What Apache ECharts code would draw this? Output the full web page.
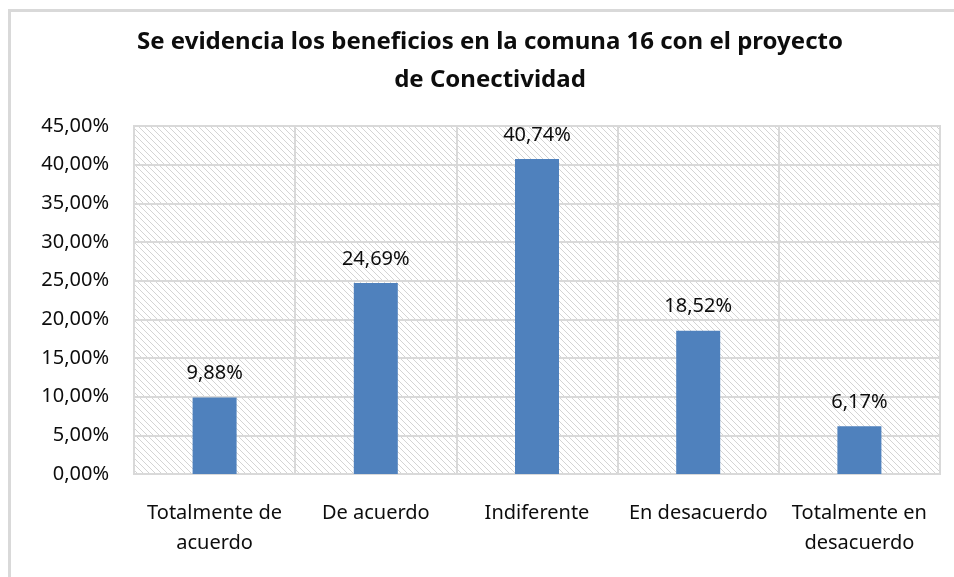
<!DOCTYPE html>
<html>
<head>
<meta charset="utf-8">
<script src="https://cdn.jsdelivr.net/npm/echarts@6/dist/echarts.min.js"></script>
<style>
  html, body { margin: 0; padding: 0; background: #fff; }
  #chart { width: 954px; height: 577px; }
</style>
</head>
<body>
<div id="chart"></div>
<script>
// datos del gráfico
const titleText = 'Se evidencia los beneficios en la comuna 16 con el proyecto\nde Conectividad'
const categories = [
  'Totalmente de\nacuerdo',
  'De acuerdo',
  'Indiferente',
  'En desacuerdo',
  'Totalmente en\ndesacuerdo'
]
const percentValues = [9.88, 24.69, 40.74, 18.52, 6.17]
const yTicks = { min: 0, max: 45, step: 5 }

// formato con coma decimal
function fmtPct(v) {
  return Number(v).toFixed(2).replace('.', ',') + '%'
}

// patrón rayado del fondo del área de trazado
function makeHatch() {
  const s = 6
  const c = document.createElement('canvas')
  c.width = s
  c.height = s
  const ctx = c.getContext('2d')
  ctx.fillStyle = '#ffffff'
  ctx.fillRect(0, 0, s, s)
  ctx.strokeStyle = '#d4d4d4'
  ctx.lineWidth = 1
  for (let i = -s; i <= s; i += s) {
    ctx.beginPath()
    ctx.moveTo(i, 0)
    ctx.lineTo(i + s, s)
    ctx.stroke()
  }
  return c
}

const chart = echarts.init(document.getElementById('chart'))
const font = 'Noto Sans'

const option = {
  animation: false,
  backgroundColor: '#ffffff',
  graphic: [
    {
      type: 'rect',
      shape: { x: 9.5, y: 10.5, width: 1000, height: 700 },
      style: { fill: 'none', stroke: '#d9d9d9', lineWidth: 3 },
      silent: true
    }
  ],
  title: {
    text: titleText,
    left: 490,
    top: 23,
    textAlign: 'center',
    padding: 0,
    textStyle: {
      fontFamily: font,
      fontWeight: 'bold',
      fontSize: 24,
      lineHeight: 38,
      color: '#0d0d0d'
    }
  },
  grid: {
    left: 134,
    right: 14,
    top: 126,
    bottom: 103,
    show: true,
    borderColor: '#d9d9d9',
    borderWidth: 2,
    backgroundColor: { image: makeHatch(), repeat: 'repeat' }
  },
  xAxis: {
    type: 'category',
    data: categories,
    axisLine: { show: true, lineStyle: { color: '#d9d9d9', width: 2 } },
    axisTick: { show: false },
    splitLine: { show: true, interval: 0, lineStyle: { color: '#d9d9d9', width: 2 } },
    axisLabel: {
      interval: 0,
      margin: 24,
      fontFamily: font,
      fontSize: 20,
      lineHeight: 30,
      color: '#0d0d0d'
    }
  },
  yAxis: {
    type: 'value',
    min: yTicks.min,
    max: yTicks.max,
    interval: yTicks.step,
    axisLine: { show: false },
    axisTick: { show: false },
    splitLine: { show: true, lineStyle: { color: '#d9d9d9', width: 2 } },
    axisLabel: {
      margin: 25,
      fontFamily: font,
      fontSize: 20,
      color: '#0d0d0d',
      formatter: fmtPct
    }
  },
  series: [
    {
      type: 'bar',
      data: percentValues,
      barWidth: 44,
      itemStyle: { color: '#4f81bd' },
      label: {
        show: true,
        position: 'top',
        distance: 14,
        fontFamily: font,
        fontSize: 20,
        color: '#0d0d0d',
        formatter: (p) => fmtPct(p.value)
      }
    }
  ]
}

chart.setOption(option)
</script>
</body>
</html>
